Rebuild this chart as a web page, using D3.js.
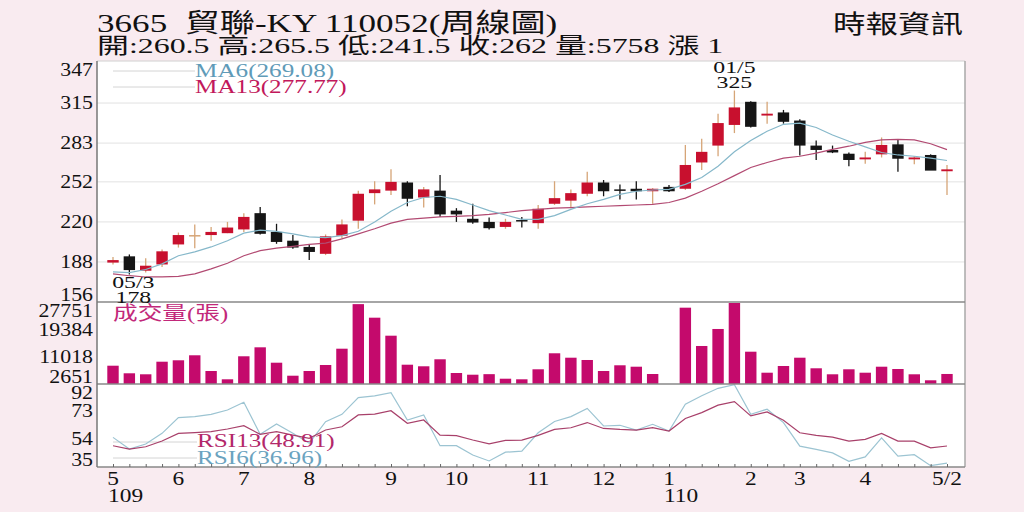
<!DOCTYPE html>
<html lang="zh-Hant">
<head>
<meta charset="utf-8">
<title>3665 貿聯-KY 周線圖</title>
<script src="https://d3js.org/d3.v7.min.js"></script>
<style type="text/css">
body { margin: 0; background: #f9ebf0; }
svg { display: block; }
text { font-family: "Liberation Serif", "Noto Sans CJK TC", serif; }
</style>
</head>
<body>
<script type="text/javascript">

// weekly candles 109/05 - 110/04
var opens  = [187.5, 192.5, 181, 186, 202, 209.5, 209.5, 211, 214, 227, 212, 205, 200, 194.5, 209, 221, 243, 245, 251.5, 239.5, 245, 229, 222.5, 220, 216, 221.5,
              219, 234.5, 237, 242.5, 251.5, 246, 246.5, 244.5, 248, 246.5, 267.5, 281, 297.5, 316, 305, 307.5, 301, 281, 277.5, 274.5, 270, 274, 282, 270, 273.5, 260.5];
var highs  = [192, 194, 191, 198, 211.5, 218, 216, 220, 227, 232, 218.5, 209.5, 202, 210, 222, 245, 252.5, 262, 252.5, 248, 257.5, 231, 234.5, 223.5, 222.5, 224,
              233.5, 252.5, 246, 260, 253.5, 250, 252.5, 247, 249.5, 281.5, 286.5, 306.5, 325, 316.5, 316, 309.5, 302, 285, 281, 275.5, 276, 287.5, 286, 272.5, 274, 265.5];
var lows   = [186, 178, 179.5, 184, 199.5, 199, 205, 211, 212, 210, 202.5, 198.5, 189.5, 193.5, 206.5, 214.5, 234, 241.5, 232.5, 231.5, 224, 220, 218.5, 214, 214.5, 215.5,
              214.5, 233.5, 231, 240.5, 240.5, 238, 238, 234.5, 244, 245.5, 261.5, 272.5, 291, 295.5, 298.5, 298.5, 273, 269.5, 275, 264.5, 266.5, 271.5, 260, 266, 262, 241.5];
var closes = [189.5, 181.5, 185, 196.5, 209.5, 209.5, 212, 215.5, 224, 210.5, 204, 199.5, 196, 208.5, 218, 242.5, 246, 252, 238.5, 246, 226, 226, 219.5, 215, 220, 220.5,
              230.5, 239, 243, 251.5, 244.5, 245.5, 244.5, 246.5, 244.5, 265.5, 276, 299, 311.5, 296, 306.5, 300, 281, 277.5, 275.5, 269.5, 271.5, 281.5, 270.5, 271.5, 261, 262];

var volumes = [8320, 5970, 5660, 9560, 10000, 11550, 6680, 4110, 11240, 14020, 9250, 5220, 6680, 8540, 13590, 27400, 23200, 17620, 8630, 8140, 10310, 6060, 5530, 5700, 4290, 4110,
               7210, 12170, 10800, 10090, 6680, 8450, 8010, 5750, 2651, 26300, 14430, 19700, 27751, 12660, 6150, 8230, 10800, 7520, 5660, 7210, 6150, 8010, 7300, 5660, 3800, 5758];

var ma6  = [180, 179.5, 182, 186.5, 193, 196, 200, 205, 211, 213.5, 212.5, 210.5, 208, 207.5, 209, 212.5, 220, 228.5, 235.5, 239.5, 240.5, 238, 233.5, 229, 225.5, 222,
            222, 225, 230, 234.5, 238, 242, 244.5, 245.5, 246, 250, 255.5, 264.5, 276, 285, 292.5, 298, 299, 295.5, 289.5, 284.5, 280, 275.5, 273.5, 272.5, 271, 269.08];
var ma13 = [178.5, 177, 176, 176, 176.5, 178.5, 182.5, 187, 193, 197, 199, 200.5, 202, 203, 206.5, 210.5, 214.5, 219, 222, 223, 224, 224.5, 225, 226, 227.5, 229,
            230, 231, 231.5, 232, 232.5, 233, 233.5, 234, 235.5, 239, 244.5, 250.5, 257, 263.5, 267.5, 271, 272.5, 275, 278, 280.5, 283.5, 285.5, 286, 285.5, 282.5, 277.77];

var rsi6  = [54.9, 46.8, 50.3, 57.7, 68.6, 69.3, 70.9, 73.9, 79.3, 57, 64.2, 57.7, 50.8, 65.8, 70.9, 82.5, 83.7, 86, 67, 70.5, 49.1, 49.1, 42.6, 38.5, 44.6, 45.3,
             58.1, 65.9, 69.3, 75, 62.8, 63.3, 60, 64, 59.3, 78, 83.8, 89, 91.5, 71, 74.5, 65.2, 48.8, 46.5, 44.1, 38.3, 41.3, 54.6, 41.8, 42.9, 35.2, 36.96];
var rsi13 = [49.1, 46.8, 48.4, 52.4, 57.7, 58.2, 58.9, 60.7, 63, 57, 58.9, 56.5, 54.2, 60, 62.3, 70.5, 71.1, 73.4, 64.7, 67, 56.5, 56.1, 53.1, 50.4, 52.8, 53,
             56.3, 60.4, 61.6, 65.2, 61.1, 60.4, 60, 61.6, 59.3, 68, 72.1, 77.3, 79.8, 69.8, 72.6, 66.8, 58.1, 56.3, 55.1, 52.3, 53.5, 57.7, 52.3, 52.3, 47.6, 48.91];

var priceTicks  = [156, 188, 220, 252, 283, 315, 347];
var volumeTicks = [2651, 11018, 19384, 27751];
var rsiTicks    = [35, 54, 73, 92];

var monthIndex  = [0, 4, 8, 12, 17, 21, 26, 30, 34, 39, 42, 46, 51];
var monthLabels = ["5", "6", "7", "8", "9", "10", "11", "12", "1", "2", "3", "4", "5/2"];
var yearIndex   = [0, 34];
var yearLabels  = ["109", "110"];

var hiDate = "01/5";
var loDate = "05/3";

//Width and height
var w = 1024;
var h = 512;
var plotLeft = 97, plotRight = 965;
var priceTop = 61, priceBottom = 302, volBottom = 384, rsiBottom = 467;

var red = "#c8102e", black = "#151515", wickRed = "#d6a577";
var volColor = "#c40a6c";
var ma6Color = "#86b8ca", ma13Color = "#b24a72";

var n = closes.length;
var x = d3.scaleLinear().domain([0, n - 1]).range([113, 947]);
var yPrice = d3.scaleLinear().domain(d3.extent(priceTicks)).range([302, 63]);
var yVol = d3.scaleLinear().domain(d3.extent(volumeTicks)).range([volBottom, 303]);
var yRsi = d3.scaleLinear().domain(d3.extent(rsiTicks)).range([466, 384]);
var bw = 11.4;

var svg = d3.select("body")
	.append("svg")
	.attr("width", w)
	.attr("height", h);

svg.append("rect").attr("width", w).attr("height", h).attr("fill", "#f9ebf0");
svg.append("rect")
	.attr("x", plotLeft).attr("y", priceTop)
	.attr("width", plotRight - plotLeft).attr("height", rsiBottom - priceTop)
	.attr("fill", "white");

// stretched text helper
function label(g, tx, ty, str, size, sx, anchor, color) {
	return g.append("text")
		.attr("transform", "translate(" + tx + "," + ty + ") scale(" + sx + ",1)")
		.attr("text-anchor", anchor)
		.attr("font-size", size)
		.attr("fill", color || "#111")
		.style("white-space", "pre")
		.text(str);
}

// gridlines
svg.selectAll("line.grid")
	.data(priceTicks.slice(1, -1))
	.enter()
	.append("line")
	.attr("class", "grid")
	.attr("x1", plotLeft).attr("x2", plotRight)
	.attr("y1", function(d) { return yPrice(d); })
	.attr("y2", function(d) { return yPrice(d); })
	.attr("stroke", "#e2e2e2");

// legend leader lines
[[71, 113, 195], [87, 113, 195], [442, 113, 197], [458, 113, 197]].forEach(function(l) {
	svg.append("line").attr("x1", l[1]).attr("x2", l[2]).attr("y1", l[0]).attr("y2", l[0])
		.attr("stroke", "#d4d4d4");
});

// candles
var candles = svg.selectAll("g.candle")
	.data(d3.range(n))
	.enter()
	.append("g")
	.attr("class", "candle");

function bodyColor(i) {
	if (closes[i] > opens[i]) return red;
	if (closes[i] < opens[i]) return black;
	return wickRed;
}

candles.append("line")
	.attr("x1", function(i) { return x(i); })
	.attr("x2", function(i) { return x(i); })
	.attr("y1", function(i) { return yPrice(highs[i]); })
	.attr("y2", function(i) { return yPrice(lows[i]); })
	.attr("stroke", function(i) { return closes[i] < opens[i] ? black : wickRed; })
	.attr("stroke-width", 1.3);

candles.append("rect")
	.attr("x", function(i) { return x(i) - bw / 2; })
	.attr("width", bw)
	.attr("y", function(i) { return yPrice(Math.max(opens[i], closes[i])); })
	.attr("height", function(i) { return Math.max(1.5, Math.abs(yPrice(opens[i]) - yPrice(closes[i]))); })
	.attr("fill", bodyColor);

// moving averages
var priceLine = d3.line()
	.x(function(d, i) { return x(i); })
	.y(function(d) { return yPrice(d); });

svg.append("path").attr("d", priceLine(ma13)).attr("fill", "none").attr("stroke", ma13Color).attr("stroke-width", 1.2);
svg.append("path").attr("d", priceLine(ma6)).attr("fill", "none").attr("stroke", ma6Color).attr("stroke-width", 1.2);

// volume bars
svg.selectAll("rect.vol")
	.data(volumes)
	.enter()
	.append("rect")
	.attr("class", "vol")
	.attr("x", function(d, i) { return x(i) - bw / 2; })
	.attr("width", bw)
	.attr("y", function(d) { return yVol(d); })
	.attr("height", function(d) { return yVol(volumeTicks[0]) - yVol(d); })
	.attr("fill", volColor);

// RSI
var rsiLine = d3.line()
	.x(function(d, i) { return x(i); })
	.y(function(d) { return yRsi(d); });

svg.append("path").attr("d", rsiLine(rsi6)).attr("fill", "none").attr("stroke", "#9cc4d2").attr("stroke-width", 1.2);
svg.append("path").attr("d", rsiLine(rsi13)).attr("fill", "none").attr("stroke", "#a8406a").attr("stroke-width", 1.2);

// frame
svg.append("line").attr("x1", plotLeft).attr("x2", plotRight).attr("y1", priceTop).attr("y2", priceTop).attr("stroke", "#d0d0d0");
svg.append("line").attr("x1", plotRight).attr("x2", plotRight).attr("y1", priceTop).attr("y2", rsiBottom).attr("stroke", "#a8a8a8").attr("stroke-width", 1.5);
[priceBottom, volBottom, rsiBottom].forEach(function(yy) {
	svg.append("line").attr("x1", plotLeft).attr("x2", plotRight).attr("y1", yy).attr("y2", yy)
		.attr("stroke", "#888").attr("stroke-width", 1.5);
});
svg.append("line").attr("x1", plotLeft).attr("x2", plotLeft).attr("y1", priceTop).attr("y2", rsiBottom)
	.attr("stroke", "#777").attr("stroke-width", 1.5);

// x axis ticks
var xAxis = d3.axisBottom(x).tickValues(d3.range(n)).tickSize(3).tickFormat("");
svg.append("g")
	.attr("transform", "translate(0," + (rsiBottom - 3) + ")")
	.call(xAxis)
	.call(function(g) { g.select(".domain").remove(); })
	.selectAll("line").attr("stroke", "#666");

// y labels, end labels kept inside their panel
function yLabels(ticks, scale, lo, hi) {
	ticks.forEach(function(t) {
		var yy = Math.min(Math.max(scale(t), lo + 9), hi - 7) + 6;
		label(svg, 93, yy, String(t), 19, 1.15, "end");
	});
}
yLabels(priceTicks, yPrice, priceTop, priceBottom);
yLabels(volumeTicks, yVol, priceBottom, volBottom);
yLabels(rsiTicks, yRsi, volBottom, rsiBottom);

// month labels
monthIndex.forEach(function(mi, k) {
	label(svg, x(mi), 485, monthLabels[k], 18, 1.3, "middle");
});
yearIndex.forEach(function(yi, k) {
	label(svg, x(yi) - 5, 502, yearLabels[k], 18, 1.3, "start");
});

// high / low notes
var hi = d3.maxIndex(highs), lo = d3.minIndex(lows);
label(svg, x(hi), yPrice(highs[hi]) - 18, hiDate, 17, 1.4, "middle");
label(svg, x(hi), yPrice(highs[hi]) - 3, String(highs[hi]), 17, 1.4, "middle");
label(svg, x(lo) + 4, yPrice(lows[lo]) + 14, loDate, 17, 1.4, "middle");
label(svg, x(lo) + 4, yPrice(lows[lo]) + 29, String(lows[lo]), 17, 1.4, "middle");

// legends
var f2 = d3.format(".2f");
label(svg, 195, 77, "MA6(" + f2(ma6[n - 1]) + ")", 18, 1.4, "start", "#5f9bb8");
label(svg, 195, 93, "MA13(" + f2(ma13[n - 1]) + ")", 18, 1.4, "start", "#c2185b");
label(svg, 197, 447, "RSI13(" + f2(rsi13[n - 1]) + ")", 18, 1.4, "start", "#b3286a");
label(svg, 197, 464, "RSI6(" + f2(rsi6[n - 1]) + ")", 18, 1.4, "start", "#6ba3bf");
label(svg, 113, 320, "成交量(張)", 19, 1.3, "start", "#c2287a");

// header
label(svg, 97, 32, "3665  貿聯-KY 110052(周線圖)", 26, 1.35, "start");
label(svg, 97, 53, "開:" + opens[n - 1] + " 高:" + highs[n - 1] + " 低:" + lows[n - 1] + " 收:" + closes[n - 1] +
	" 量:" + volumes[n - 1] + " 漲 " + (closes[n - 1] - closes[n - 2]), 22, 1.45, "start");
label(svg, 963, 33, "時報資訊", 25, 1.3, "end");

</script>
</body>
</html>
